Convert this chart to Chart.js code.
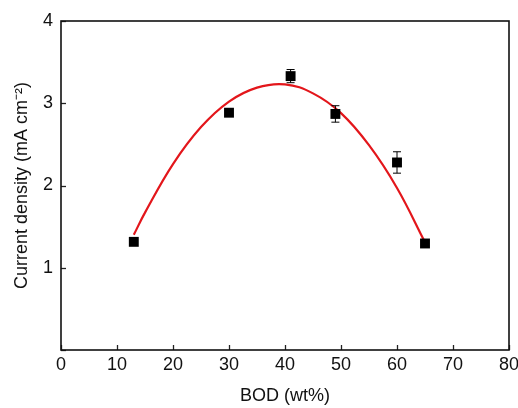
<!DOCTYPE html>
<html>
<head>
<meta charset="utf-8">
<script src="https://cdn.jsdelivr.net/npm/chart.js@4.4.1/dist/chart.umd.min.js"></script>
<style>
  html, body { margin: 0; padding: 0; background: #fff; }
  #wrap { width: 518px; height: 408px; position: relative; }
</style>
</head>
<body>
<div id="wrap"><canvas id="bodChart"></canvas></div>
<script>
// Measured points (BOD content vs current density)
const bodX = [13, 30, 41, 49, 60, 65];
const currentY = [1.315, 2.885, 3.33, 2.87, 2.28, 1.295];
const currentErr = [0.03, 0.04, 0.08, 0.10, 0.13, 0.03];

// Fitted curve
const fitX = [13, 15, 20, 25, 30, 35, 40, 45, 50, 55, 60, 65];
const fitY = [1.40, 1.67, 2.26, 2.71, 3.02, 3.19, 3.23, 3.12, 2.88, 2.49, 1.97, 1.31];

const xTicks = [0, 10, 20, 30, 40, 50, 60, 70, 80];
const yTicks = [0, 1, 2, 3, 4];

const FONT = 'Liberation Sans, Arial, Helvetica, sans-serif';

// frame + inward ticks + error bars
const framePlugin = {
    id: 'frame',
    afterDatasetsDraw(chart) {
        const { ctx, chartArea: a, scales } = chart;
        ctx.save();
        // error bars
        ctx.strokeStyle = '#000';
        ctx.lineWidth = 1;
        bodX.forEach((x, i) => {
            const px = scales.x.getPixelForValue(x);
            const top = scales.y.getPixelForValue(currentY[i] + currentErr[i]);
            const bot = scales.y.getPixelForValue(currentY[i] - currentErr[i]);
            ctx.beginPath();
            ctx.moveTo(px, top); ctx.lineTo(px, bot);
            ctx.moveTo(px - 4, top); ctx.lineTo(px + 4, top);
            ctx.moveTo(px - 4, bot); ctx.lineTo(px + 4, bot);
            ctx.stroke();
        });
        // ticks
        ctx.lineWidth = 1.3;
        ctx.strokeStyle = '#222';
        xTicks.forEach(v => {
            const px = Math.round(scales.x.getPixelForValue(v)) + 0.5;
            ctx.beginPath();
            ctx.moveTo(px, a.bottom); ctx.lineTo(px, a.bottom - 5);
            ctx.stroke();
        });
        yTicks.forEach(v => {
            const py = Math.round(scales.y.getPixelForValue(v)) + 0.5;
            ctx.beginPath();
            ctx.moveTo(a.left, py); ctx.lineTo(a.left + 5, py);
            ctx.stroke();
        });
        // box
        ctx.lineWidth = 1.6;
        ctx.strokeStyle = '#111';
        ctx.strokeRect(a.left, a.top, a.right - a.left, a.bottom - a.top);
        ctx.restore();
    }
};

new Chart(document.getElementById('bodChart'), {
    type: 'scatter',
    data: {
        datasets: [
            {
                type: 'line',
                data: fitX.map((x, i) => ({ x, y: fitY[i] })),
                borderColor: '#e3161b',
                borderWidth: 2.2,
                pointRadius: 0,
                tension: 0.4,
                fill: false,
                order: 2
            },
            {
                data: bodX.map((x, i) => ({ x, y: currentY[i] })),
                pointStyle: 'rect',
                pointRadius: 7,
                backgroundColor: '#000',
                borderColor: '#000',
                borderWidth: 0,
                order: 1
            }
        ]
    },
    options: {
        responsive: true,
        maintainAspectRatio: false,
        animation: false,
        layout: { padding: { top: 21, right: 0, left: 0, bottom: 0 } },
        plugins: { legend: { display: false }, tooltip: { enabled: false } },
        scales: {
            x: {
                type: 'linear',
                min: 0, max: 80,
                afterFit: s => { s.height = 58; s.paddingRight = 9; },
                afterBuildTicks: s => { s.ticks = xTicks.map(v => ({ value: v })); },
                grid: { display: false, drawTicks: false },
                border: { display: false },
                ticks: { color: '#111', padding: 4, font: { family: FONT, size: 18 } },
                title: {
                    display: true, text: 'BOD (wt%)', color: '#111',
                    font: { family: FONT, size: 18 }, padding: { top: 0, bottom: 1 }
                }
            },
            y: {
                type: 'linear',
                min: 0, max: 4,
                afterFit: s => { s.width = 61; },
                afterBuildTicks: s => { s.ticks = yTicks.map(v => ({ value: v })); },
                grid: { display: false, drawTicks: false },
                border: { display: false },
                ticks: {
                    color: '#111', padding: 8, font: { family: FONT, size: 18 },
                    callback: v => (v === 0 ? '' : v)
                },
                title: {
                    display: true, text: 'Current density (mA cm\u207B\u00B2)', color: '#111',
                    font: { family: FONT, size: 18 }, padding: { top: 11, bottom: 0 }
                }
            }
        }
    },
    plugins: [framePlugin]
});
</script>
</body>
</html>
